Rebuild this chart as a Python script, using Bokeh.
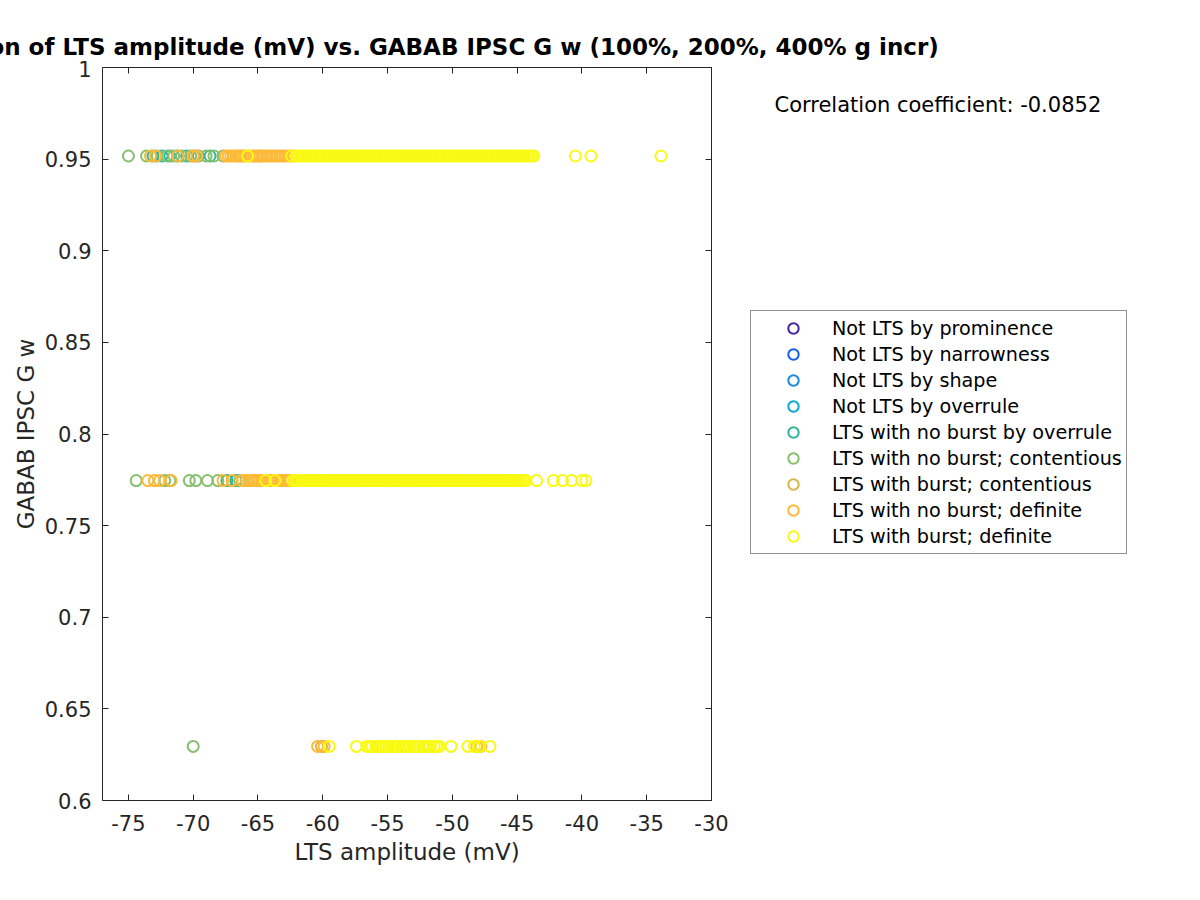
import math
from bokeh.plotting import figure
from bokeh.layouts import row, column
from bokeh.models import (ColumnDataSource, Range1d, LinearAxis, FixedTicker,
                          Legend, LegendItem, Label)
from bokeh.embed import file_html
from bokeh.resources import INLINE

# ---------------- data ----------------
categories = [
    "Not LTS by prominence",
    "Not LTS by narrowness",
    "Not LTS by shape",
    "Not LTS by overrule",
    "LTS with no burst by overrule",
    "LTS with no burst; contentious",
    "LTS with burst; contentious",
    "LTS with no burst; definite",
    "LTS with burst; definite",
]
colors = ["#3E26A8", "#0F62E8", "#1A8AE0", "#05ACCE", "#2EB69B",
          "#86BF6E", "#D6B64A", "#FDBA38", "#F9FA14"]

# GABAB IPSC G w levels (100%, 200%, 400% g incr)
gw_levels = [0.9517, 0.7746, 0.6295]

# LTS amplitude (mV) per category, one list per G w level
amp_prominence = [[], [], []]
amp_narrowness = [[], [], []]
amp_shape = [[], [], []]
amp_overrule = [[], [], []]
amp_nb_overrule = [
    [-73.1, -72.4, -71.8, -71.2, -70.5, -69.6, -68.7],
    [-67.4, -66.7],
    [],
]
amp_nb_contentious = [
    [-75.0, -73.6, -72.8, -72.0, -71.5, -70.9, -70.2, -69.9, -69.0, -68.4, -67.7],
    [-74.4, -72.2, -71.8, -70.3, -69.8, -68.9, -68.1, -66.4],
    [-70.0],
]
amp_b_contentious = [
    [-66.4, -64.9],
    [-65.3, -63.9],
    [-60.1],
]
amp_nb_definite = [
    [-73.3, -72.9, -71.2, -70.0, -69.7, -67.5, -67.3, -67.1, -66.9, -66.7, -66.5,
     -66.3, -66.1, -65.9, -65.7, -65.5, -65.3, -65.1, -64.9, -64.7, -64.5, -64.3,
     -64.1, -63.9, -63.7, -63.5, -63.3, -63.1, -62.9, -62.7, -62.5, -62.3],
    [-73.5, -73.0, -72.6, -71.7, -67.7, -67.0, -66.2, -65.9, -65.7, -65.5, -65.3,
     -65.1, -64.9, -64.7, -64.5, -64.3, -64.1, -63.9, -63.7, -63.5, -63.3, -63.1,
     -62.9, -62.7, -62.5],
    [-60.4, -59.9, -48.1, -47.8],
]
amp_b_definite = [
    [-65.8, -62.4, -62.05, -61.88, -61.70, -61.51, -61.33, -61.16, -60.97, -60.80,
     -60.62, -60.44, -60.25, -60.08, -59.90, -59.71, -59.54, -59.36, -59.18, -59.00,
     -58.82, -58.64, -58.46, -58.28, -58.10, -57.93, -57.74, -57.56, -57.39, -57.20,
     -57.02, -56.85, -56.66, -56.49, -56.30, -56.12, -55.95, -55.77, -55.58, -55.41,
     -55.22, -55.05, -54.87, -54.69, -54.51, -54.33, -54.15, -53.97, -53.79, -53.61,
     -53.43, -53.25, -53.07, -52.89, -52.71, -52.53, -52.35, -52.17, -51.99, -51.81,
     -51.63, -51.45, -51.27, -51.09, -50.91, -50.73, -50.55, -50.37, -50.19, -50.01,
     -49.83, -49.65, -49.47, -49.29, -49.11, -48.93, -48.75, -48.57, -48.39, -48.21,
     -48.03, -47.85, -47.67, -47.49, -47.31, -47.13, -46.95, -46.77, -46.59, -46.41,
     -46.23, -46.05, -45.87, -45.69, -45.51, -45.33, -45.15, -44.97, -44.79, -44.61,
     -44.43, -44.25, -44.07, -43.89, -43.71, -40.5, -39.3, -33.9],
    [-64.4, -63.7, -62.32, -62.14, -61.96, -61.78, -61.60, -61.42, -61.24, -61.06,
     -60.88, -60.70, -60.52, -60.34, -60.16, -59.98, -59.80, -59.62, -59.44, -59.26,
     -59.08, -58.90, -58.72, -58.54, -58.36, -58.18, -58.00, -57.82, -57.64, -57.46,
     -57.28, -57.10, -56.92, -56.74, -56.56, -56.38, -56.20, -56.02, -55.84, -55.66,
     -55.48, -55.30, -55.12, -54.94, -54.76, -54.58, -54.40, -54.22, -54.04, -53.86,
     -53.68, -53.50, -53.32, -53.14, -52.96, -52.78, -52.60, -52.42, -52.24, -52.06,
     -51.88, -51.70, -51.52, -51.34, -51.16, -50.98, -50.80, -50.62, -50.44, -50.26,
     -50.08, -49.90, -49.72, -49.54, -49.36, -49.18, -49.00, -48.82, -48.64, -48.46,
     -48.28, -48.10, -47.92, -47.74, -47.56, -47.38, -47.20, -47.02, -46.84, -46.66,
     -46.48, -46.30, -46.12, -45.94, -45.76, -45.58, -45.40, -45.22, -45.04, -44.86,
     -44.68, -44.50, -44.32, -43.5, -42.2, -41.5, -40.8, -40.0, -39.7],
    [-59.5, -57.4, -56.6, -56.4, -56.2, -55.9, -55.7, -55.5, -55.3, -55.1, -54.9,
     -54.6, -54.4, -54.2, -53.9, -53.7, -53.5, -53.3, -53.0, -52.8, -52.6, -52.3,
     -52.1, -51.9, -51.7, -51.4, -51.2, -51.0, -50.1, -48.8, -48.3, -47.9, -47.1],
]
all_amps = [amp_prominence, amp_narrowness, amp_shape, amp_overrule,
            amp_nb_overrule, amp_nb_contentious, amp_b_contentious,
            amp_nb_definite, amp_b_definite]

x_ticks = [-75, -70, -65, -60, -55, -50, -45, -40, -35, -30]
x_tick_labels = ["-75", "-70", "-65", "-60", "-55", "-50", "-45", "-40", "-35", "-30"]
y_ticks = [0.6, 0.65, 0.7, 0.75, 0.8, 0.85, 0.9, 0.95, 1.0]
y_tick_labels = ["0.6", "0.65", "0.7", "0.75", "0.8", "0.85", "0.9", "0.95", "1"]

title_text = "Correlation of LTS amplitude (mV) vs. GABAB IPSC G w (100%, 200%, 400% g incr)"
corr_text = "Correlation coefficient: -0.0852"

# ---------------- layout constants ----------------
FONT = "DejaVu Sans"
AX = "#262626"
W_TOTAL = 1184
W_MAIN = 731
H_TITLE = 60
H_MAIN = 820
BORDER_L = 102
BORDER_R_FRAME = W_TOTAL - 711


def blank_fig(width, height, **kw):
    f = figure(width=width, height=height, output_backend="svg",
               toolbar_location=None, x_axis_location=None, y_axis_location=None,
               x_range=Range1d(0, 1), y_range=Range1d(0, 1),
               outline_line_color=None, **kw)
    f.grid.visible = False
    f.background_fill_color = "white"
    f.border_fill_color = "white"
    return f


# ---------------- title strip ----------------
p0 = blank_fig(W_TOTAL, H_TITLE, min_border_left=BORDER_L,
               min_border_right=BORDER_R_FRAME, min_border_top=59,
               min_border_bottom=0)
p0.title.text = title_text
p0.title.align = "center"
p0.title.text_font = FONT
p0.title.text_font_size = "23px"
p0.title.text_font_style = "bold"
p0.title.text_color = "black"
p0.title.standoff = -1

# ---------------- main figure ----------------
p = figure(width=W_MAIN, height=H_MAIN, output_backend="svg", toolbar_location=None,
           x_range=Range1d(-77, -30), y_range=Range1d(0.6, 1.0),
           min_border_left=BORDER_L, min_border_right=20,
           min_border_top=7, min_border_bottom=80)
p.title.visible = False
p.xgrid.visible = False
p.ygrid.visible = False
p.outline_line_color = None
p.background_fill_color = "white"
p.border_fill_color = "white"


def style_axis(ax):
    ax.minor_tick_line_color = None
    ax.major_tick_in = 6
    ax.major_tick_out = 0
    ax.axis_line_color = AX
    ax.major_tick_line_color = AX
    ax.major_label_text_font = FONT
    ax.major_label_text_font_size = "21px"
    ax.major_label_text_color = AX
    ax.axis_label_text_font = FONT
    ax.axis_label_text_font_size = "23px"
    ax.axis_label_text_font_style = "normal"
    ax.axis_label_text_color = AX


p.xaxis.ticker = FixedTicker(ticks=x_ticks)
p.yaxis.ticker = FixedTicker(ticks=y_ticks)
p.xaxis.major_label_overrides = {t: l for t, l in zip(x_ticks, x_tick_labels)}
p.yaxis.major_label_overrides = {t: l for t, l in zip(y_ticks, y_tick_labels)}
style_axis(p.xaxis[0])
style_axis(p.yaxis[0])
p.xaxis.axis_label = "LTS amplitude (mV)"
p.yaxis.axis_label = "GABAB IPSC G w"
p.xaxis.major_label_standoff = 14
p.yaxis.major_label_standoff = 11
p.xaxis.axis_label_standoff = 5
p.yaxis.axis_label_standoff = 3

# mirrored box axes (ticks only)
top = LinearAxis(ticker=FixedTicker(ticks=x_ticks))
style_axis(top)
top.major_label_text_font_size = "1px"
top.major_label_text_color = None
top.major_label_standoff = 0
p.add_layout(top, "above")

right = LinearAxis(ticker=FixedTicker(ticks=y_ticks))
style_axis(right)
right.major_label_text_font_size = "1px"
right.major_label_text_color = None
right.major_label_standoff = 0
p.add_layout(right, "right")

for col, amps in zip(colors, all_amps):
    xs, ys = [], []
    for lvl, vals in zip(gw_levels, amps):
        xs.extend(vals)
        ys.extend([lvl] * len(vals))
    src = ColumnDataSource(data=dict(x=xs, y=ys))
    p.scatter(x="x", y="y", source=src, marker="circle", size=11,
              fill_color=None, line_color=col, line_width=2)

# ---------------- side panel: correlation text + legend ----------------
p2 = blank_fig(W_TOTAL - W_MAIN, H_MAIN, min_border=0)

items = []
for cat, col in zip(categories, colors):
    # legend proxy (not-a-number position, never drawn in the panel)
    r = p2.scatter(x=[math.nan], y=[math.nan], marker="circle", size=11,
                   fill_color=None, line_color=col, line_width=2)
    items.append(LegendItem(label=cat, renderers=[r]))

legend = Legend(items=items, location=(19, 246),
                label_text_font=FONT, label_text_font_size="19.2px",
                label_text_color="black",
                glyph_width=76, glyph_height=26, label_height=26,
                spacing=0, padding=4, label_standoff=1, margin=0,
                border_line_color=AX, border_line_width=1,
                background_fill_color="white", background_fill_alpha=1)
p2.add_layout(legend)

corr = Label(x=43, y=696, x_units="screen", y_units="screen",
             text=corr_text, text_font=FONT, text_font_size="21px",
             text_color="black", text_baseline="middle")
p2.add_layout(corr)

layout = column(p0, row(p, p2))
open("out.html", "w").write(file_html(layout, INLINE))
